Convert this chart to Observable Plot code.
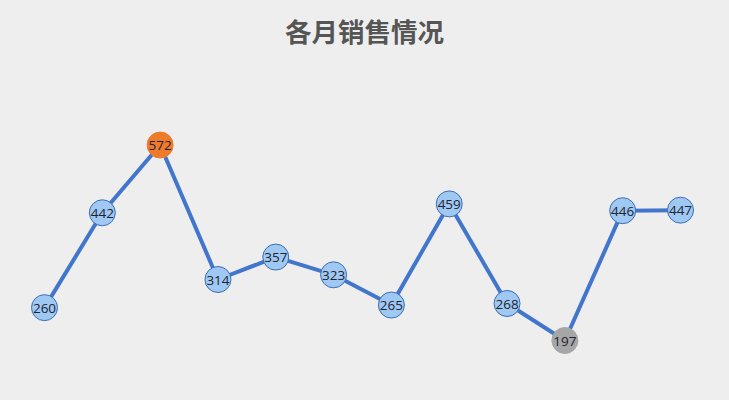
<!DOCTYPE html>
<html><head><meta charset="utf-8">
<script src="https://cdn.jsdelivr.net/npm/d3@7"></script>
<script src="https://cdn.jsdelivr.net/npm/@observablehq/plot@0.6"></script>
<style>
html,body{margin:0;padding:0;background:#eeeeef;}
#title{height:70px;line-height:62px;text-align:center;font-family:"Noto Sans CJK SC",sans-serif;font-weight:bold;font-size:26.5px;color:#555;}
</style></head>
<body>
<div id="title">各月销售情况</div>
<div id="chart"></div>
<script>
const months = [1,2,3,4,5,6,7,8,9,10,11,12];
const sales = [260,442,572,314,357,323,265,459,268,197,446,447];
const data = months.map((m,i)=>({month:m, value:sales[i]}));
const maxV = d3.max(sales), minV = d3.min(sales);
const fillOf = d => d.value===maxV ? "#ee7a2c" : d.value===minV ? "#a6a6a6" : "#9fc8f3";
const strokeOf = d => d.value===maxV ? "#ee7a2c" : d.value===minV ? "#a6a6a6" : "#3a6db3";
const chart = Plot.plot({
  width:729, height:330,
  style:{background:"#eeeeef", overflow:"visible"},
  x:{type:"linear", domain:[1,12], range:[44,680], axis:null},
  y:{domain:[197,572], range:[270,74.5], axis:null},
  marks:[
    Plot.line(data,{x:"month",y:"value",stroke:"#4176cc",strokeWidth:4}),
    Plot.dot(data,{x:"month",y:"value",r:13,fill:fillOf,stroke:strokeOf,strokeWidth:1}),
    Plot.text(data,{x:"month",y:"value",text:d=>String(d.value),fill:"#1e2430",fontSize:13.5,fontFamily:"Open Sans, sans-serif",dy:1})
  ]
});
document.getElementById("chart").appendChild(chart);
</script>
</body></html>
